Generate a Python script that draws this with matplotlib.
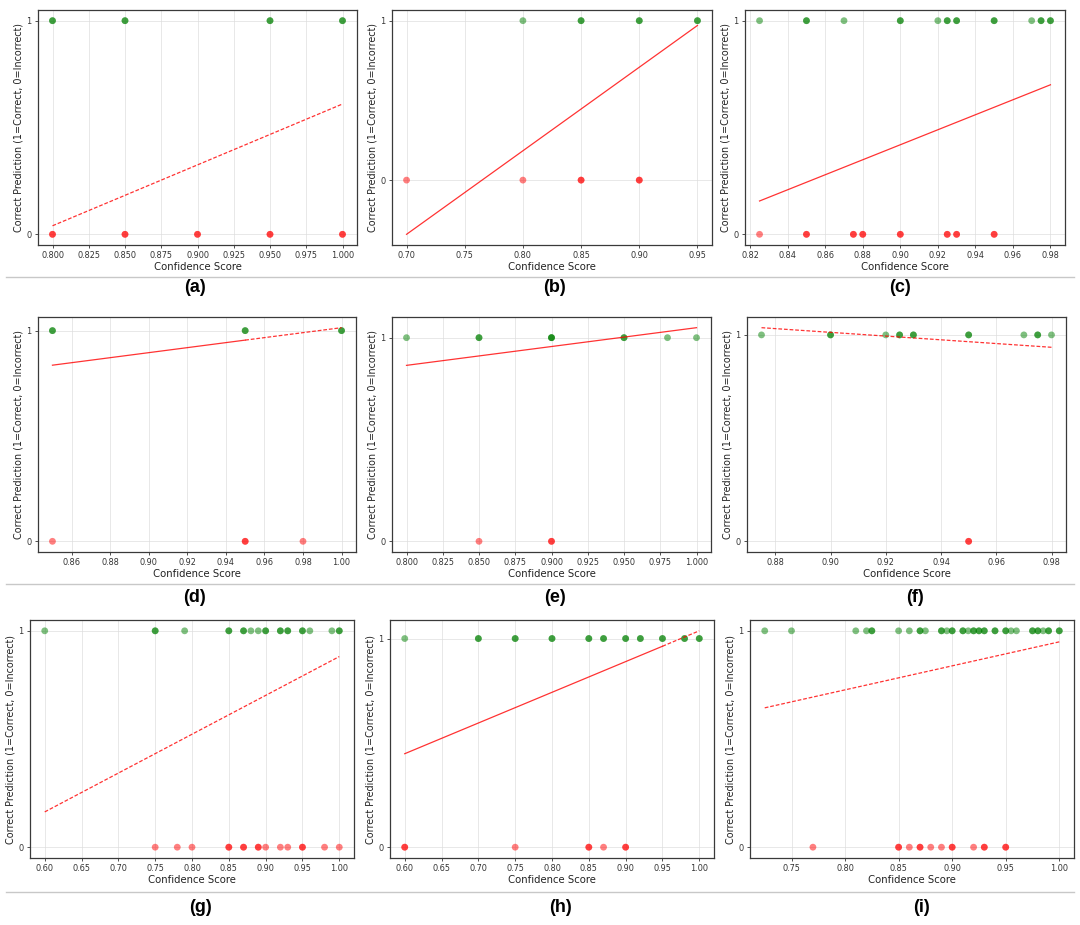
import numpy as np
import matplotlib.pyplot as plt
from matplotlib.ticker import MultipleLocator

# Confidence scores of correct (1) and incorrect (0) predictions, one list per panel.
# Repeated values are points that sit on top of each other.
a_correct = [0.80, 0.80, 0.85, 0.85, 0.95, 0.95, 1.00, 1.00]
a_wrong = [0.80, 0.80, 0.85, 0.85, 0.90, 0.90, 0.95, 0.95, 1.00, 1.00]
b_correct = [0.80, 0.85, 0.85, 0.90, 0.90, 0.95, 0.95]
b_wrong = [0.70, 0.80, 0.85, 0.85, 0.90, 0.90]
c_correct = [0.825, 0.85, 0.85, 0.87, 0.90, 0.90, 0.92, 0.925, 0.925, 0.93, 0.93,
             0.95, 0.95, 0.97, 0.975, 0.975, 0.98, 0.98]
c_wrong = [0.825, 0.85, 0.85, 0.875, 0.875, 0.88, 0.88, 0.90, 0.90, 0.925, 0.925,
           0.93, 0.93, 0.95, 0.95]
d_correct = [0.85, 0.85, 0.95, 0.95, 1.00, 1.00]
d_wrong = [0.85, 0.95, 0.95, 0.98]
e_correct = [0.80, 0.85, 0.85, 0.90, 0.90, 0.90, 0.95, 0.95, 0.98, 1.00]
e_wrong = [0.85, 0.90, 0.90]
f_correct = [0.875, 0.90, 0.90, 0.92, 0.925, 0.925, 0.93, 0.93, 0.95, 0.95,
             0.97, 0.975, 0.975, 0.98]
f_wrong = [0.95, 0.95]
g_correct = [0.60, 0.75, 0.75, 0.79, 0.85, 0.85, 0.87, 0.87, 0.88, 0.89, 0.90, 0.90,
             0.92, 0.92, 0.93, 0.93, 0.95, 0.95, 0.96, 0.99, 1.00, 1.00]
g_wrong = [0.75, 0.78, 0.80, 0.85, 0.85, 0.87, 0.87, 0.89, 0.89, 0.90, 0.92, 0.93,
           0.95, 0.95, 0.98, 1.00]
h_correct = [0.60, 0.70, 0.70, 0.75, 0.75, 0.80, 0.80, 0.85, 0.85, 0.87, 0.87,
             0.90, 0.90, 0.92, 0.92, 0.95, 0.95, 0.98, 0.98, 1.00, 1.00]
h_wrong = [0.60, 0.60, 0.75, 0.85, 0.85, 0.87, 0.90, 0.90]
i_correct = [0.725, 0.75, 0.81, 0.82, 0.825, 0.825, 0.85, 0.86, 0.87, 0.87, 0.875,
             0.89, 0.89, 0.895, 0.90, 0.90, 0.91, 0.91, 0.915, 0.92, 0.92, 0.925, 0.925,
             0.93, 0.93, 0.94, 0.94, 0.95, 0.95, 0.955, 0.96, 0.975, 0.975, 0.98, 0.98,
             0.985, 0.99, 0.99, 1.00, 1.00]
i_wrong = [0.77, 0.85, 0.85, 0.86, 0.87, 0.87, 0.88, 0.89, 0.90, 0.90, 0.92,
           0.93, 0.93, 0.95, 0.95]

# trend line: x values and y values
a_trend = ([0.80, 1.00], [0.04, 0.61])
b_trend = ([0.70, 0.95], [-0.34, 0.97])
c_trend = ([0.825, 0.98], [0.156, 0.70])
d_trend = ([0.85, 0.95, 1.00], [0.836, 0.955, 1.014])
e_trend = ([0.80, 1.00], [0.864, 1.049])
f_trend = ([0.875, 0.98], [1.035, 0.94])
g_trend = ([0.60, 1.00], [0.163, 0.881])
h_trend = ([0.60, 0.95, 1.00], [0.448, 0.963, 1.037])
i_trend = ([0.725, 1.00], [0.644, 0.949])

panel_labels = ['(a)', '(b)', '(c)', '(d)', '(e)', '(f)', '(g)', '(h)', '(i)']
tick_steps = [0.025, 0.05, 0.02, 0.02, 0.025, 0.02, 0.05, 0.05, 0.05]

panels = [
    (a_correct, a_wrong, a_trend),
    (b_correct, b_wrong, b_trend),
    (c_correct, c_wrong, c_trend),
    (d_correct, d_wrong, d_trend),
    (e_correct, e_wrong, e_trend),
    (f_correct, f_wrong, f_trend),
    (g_correct, g_wrong, g_trend),
    (h_correct, h_wrong, h_trend),
    (i_correct, i_wrong, i_trend),
]

# line style of the trend: 'dash', 'solid', or 'split' (solid then dashed)
trend_styles = ['dash', 'solid', 'solid', 'split', 'solid', 'dash', 'dash', 'split', 'dash']

W, H = 1080, 925
# axes boxes in pixels: left, top, right, bottom
boxes = [
    (38, 10, 357, 245), (392, 10, 712, 245), (745, 10, 1065, 245),
    (38, 317, 356, 552), (392, 317, 711, 552), (747, 317, 1066, 552),
    (30, 620, 354, 858), (390, 620, 714, 858), (750, 620, 1074, 858),
]
label_pos = [(195, 287), (555, 287), (900, 287),
             (195, 597), (555, 597), (915, 597),
             (200, 907), (560, 907), (922, 907)]
sep_rows = [277, 584, 892]

fig = plt.figure(figsize=(W / 100, H / 100), dpi=100)

for k, (correct, wrong, trend) in enumerate(panels):
    l, t, r, b = boxes[k]
    ax = fig.add_axes([l / W, 1 - b / H, (r - l) / W, (b - t) / H])
    ax.scatter(correct, np.ones(len(correct)), s=24, color='green', alpha=0.5,
               edgecolors='none', zorder=3)
    ax.scatter(wrong, np.zeros(len(wrong)), s=24, color='red', alpha=0.5,
               edgecolors='none', zorder=3)

    tx, ty = trend
    style = trend_styles[k]
    if style == 'solid':
        ax.plot(tx, ty, color='red', lw=0.9, alpha=0.8, zorder=4)
    elif style == 'dash':
        ax.plot(tx, ty, color='red', lw=0.9, alpha=0.8, ls=(0, (3, 1.5)), zorder=4)
    else:
        ax.plot(tx[:2], ty[:2], color='red', lw=0.9, alpha=0.8, zorder=4)
        ax.plot(tx[1:], ty[1:], color='red', lw=0.9, alpha=0.8, ls=(0, (3, 1.5)), zorder=4)

    ax.set_yticks([0, 1])
    ax.xaxis.set_major_locator(MultipleLocator(tick_steps[k]))
    ax.tick_params(labelsize=5.9, length=2.5, width=0.6, pad=2, colors='#333333')
    ax.grid(True, color='#dddddd', lw=0.6, alpha=0.8)
    ax.set_axisbelow(True)
    for sp in ax.spines.values():
        sp.set_color('#3a3a3a')
        sp.set_linewidth(0.9)
    ax.set_xlabel('Confidence Score', fontsize=7.3, labelpad=1.5, color='#222222')
    ax.set_ylabel('Correct Prediction (1=Correct, 0=Incorrect)', fontsize=6.9,
                  labelpad=2, color='#222222')

    lx, ly = label_pos[k]
    fig.text(lx / W, 1 - ly / H, panel_labels[k], ha='center', va='center',
             fontsize=13, fontweight='bold', family='Liberation Sans')

for y in sep_rows:
    fig.add_artist(plt.Line2D([6 / W, 1074 / W], [1 - y / H, 1 - y / H],
                              color='#c8c8c8', lw=1))

fig.savefig('out.png', dpi=100, facecolor='white')
